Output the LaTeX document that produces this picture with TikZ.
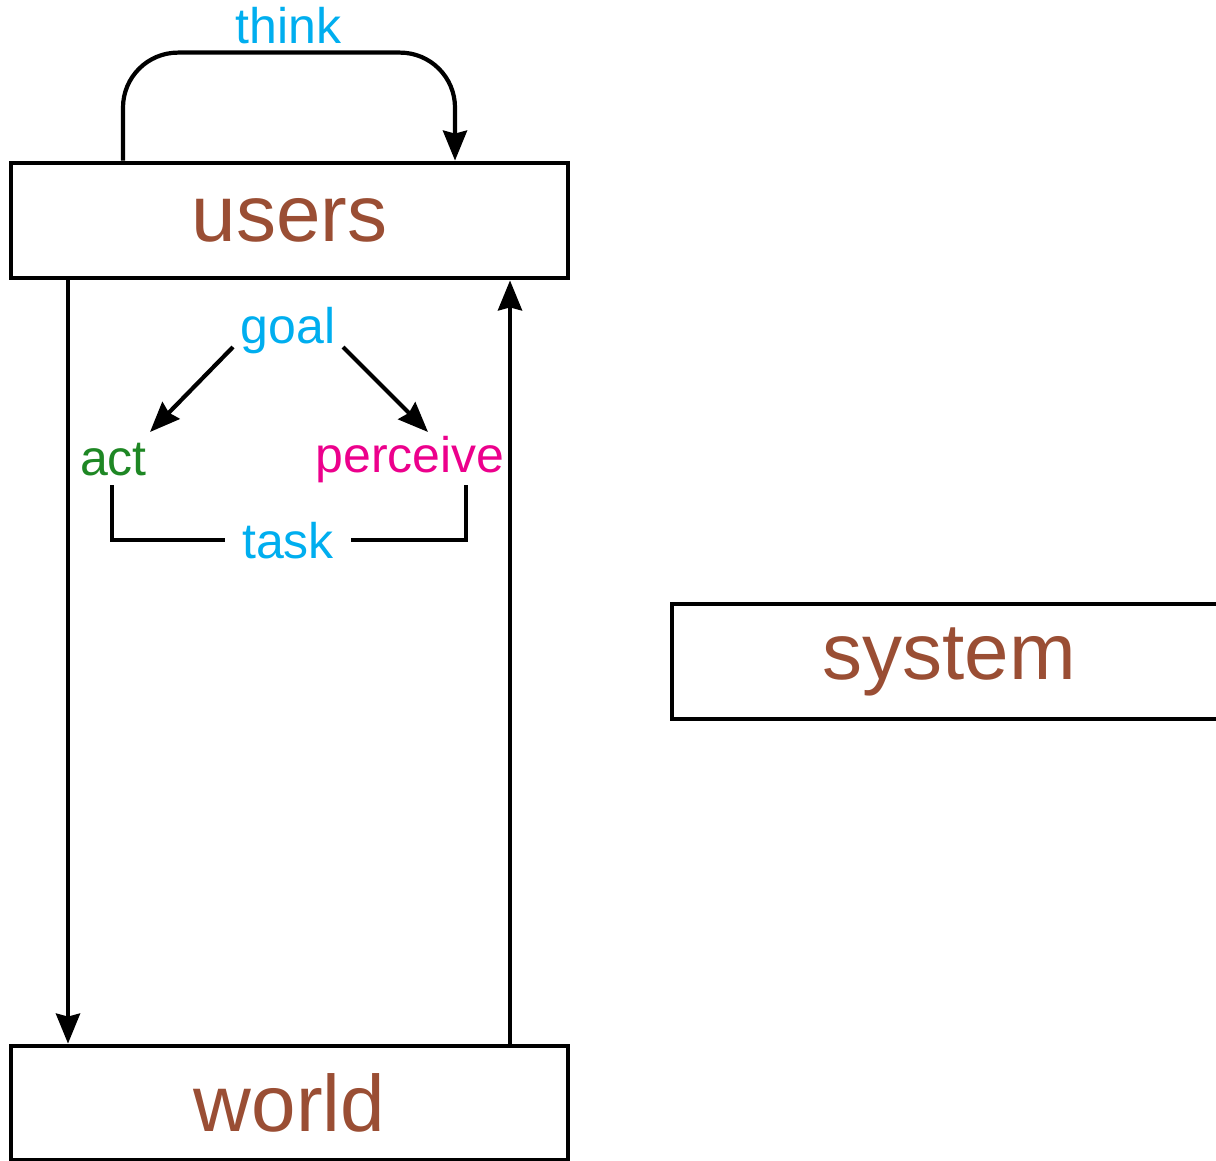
\documentclass[tikz,border=0pt]{standalone}
\usepackage{fontspec}
\setmainfont{Liberation Sans}
\usetikzlibrary{arrows.meta}
\definecolor{boxtext}{RGB}{154,78,52}
\definecolor{skyblue}{RGB}{0,174,239}
\definecolor{actgreen}{RGB}{30,135,36}
\definecolor{percmag}{RGB}{236,0,140}
\tikzset{
  block/.style={draw, line width=2.4pt, inner sep=0pt, minimum height=57.5pt, text=boxtext,
    font=\fontsize{40}{48}\selectfont},
  label/.style={inner sep=0pt, anchor=base, font=\fontsize{25}{30}\selectfont},
  link/.style={line width=2.1pt},
  arrowlink/.style={link, -{Stealth[length=15pt, width=12pt, inset=1.5pt]}}
}
\begin{document}
\begin{tikzpicture}[x=0.5pt, y=-0.5pt]
\useasboundingbox (0,0) rectangle (1216,1161);

% the three boxes
\node[block, minimum width=278.5pt] (users) at (289.5,220.5) {users};
\node[block, minimum width=278.5pt, minimum height=57pt] (world) at (289.5,1103) {world};
\node[block, minimum width=277pt] (system) at (949,661.5) {system};

% small labels
\node[label, text=skyblue] (think) at (288.5,44) {think};
\node[label, text=skyblue] (goal) at (288,343) {goal};
\node[label, text=actgreen] (act) at (113.5,475) {act};
\node[label, text=percmag] (perceive) at (410,472) {perceive};
\node[label, text=skyblue] (task) at (288,558) {task};

% thinking loop above the users box
\draw[arrowlink, rounded corners=27.5pt]
  ([shift={(-166.5,0)}]users.north) -- ++(0,-108) -- ++(332,0)
  -- ([shift={(165.5,0)}]users.north);

% users act on the world, the world feeds back
\draw[arrowlink] ([shift={(-221.5,0)}]users.south) -- ([shift={(-221.5,0)}]world.north);
\draw[arrowlink] ([shift={(220.5,0)}]world.north) -- ([shift={(220.5,0)}]users.south);

% goal splits into act and perceive
\draw[arrowlink] ([shift={(-55,4)}]goal.base) -- ([shift={(36.5,-43)}]act.base);
\draw[arrowlink] ([shift={(55,4)}]goal.base) -- ([shift={(18,-40)}]perceive.base);

% task bracket joining act and perceive
\draw[link] ([shift={(-1.5,10)}]act.base) |- ([shift={(-17,0)}]task.west);
\draw[link] ([shift={(17,0)}]task.east) -| ([shift={(56,13)}]perceive.base);
\end{tikzpicture}
\end{document}
